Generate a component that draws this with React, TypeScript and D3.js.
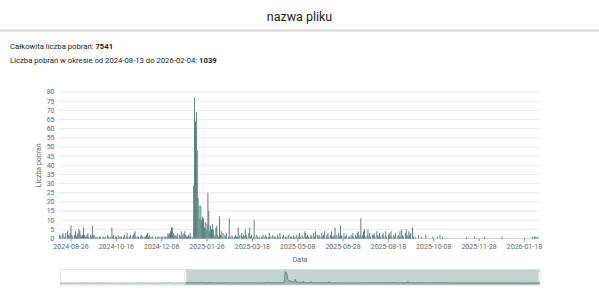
import React from "react";
import * as d3 from "d3";

// ---- Daily downloads in the selected period (2024-08-13 .. 2026-02-04) ----
const aug2024 = [2,1,0,2,3, 0,1,3,0,4, 2,1,3,7,2, 1,0,2,4];
const sep2024 = [1,2,3,5,4,2,1,2,6,2, 1,1,2,3,1,0,2,1,7,2, 2,0,1,0,1,0,1,1,0,0];
const oct2024 = [1,1,0,1,0,2,1,0,1,0, 6,1,2,0,1,1,0,2,1,0, 1,1,0,1,2,0,1,3,1,0, 1];
const nov2024 = [2,0,1,2,3,4,1,0,1,1, 0,1,2,1,1,0,1,1,2,3, 1,2,1,0,1,1,0,0,1,0];
const dec2024 = [1,1,0,1,0,1,1,0,1,1, 0,1,3,2,3,4,6,6,3,2, 1,2,1,3,0,2,1,4,2,1, 3];
const jan2025 = [4,2,1,1,2,1,3,1,0,1, 29,77,64,69,48,22,18,11,18,10, 12,11,6,9,5,8,25,15,4,7, 5];
const feb2025 = [8,5,2,1,6,7,2,1,12,2, 4,1,3,0,2,1,3,0,1,11, 1,0,2,1,0,1,2,1];
const mar2025 = [1,6,1,2,0,3,1,2,1,5, 2,1,0,3,6,1,2,0,1,10, 1,0,2,1,0,1,0,1,1,2, 0];
const apr2025 = [1,2,1,0,1,3,1,0,1,2, 0,1,1,0,2,1,0,3,1,0, 1,2,0,1,1,0,1,2,0,1];
const may2025 = [1,0,2,1,0,1,2,0,1,3, 1,0,2,1,0,4,3,1,2,1, 0,1,2,1,0,3,1,4,0,2, 1];
const jun2025 = [2,1,0,3,1,2,4,0,1,2, 3,1,0,2,4,1,1,2,6,1, 2,0,3,1,7,2,1,0,3,1];
const jul2025 = [1,2,0,1,1,0,2,1,3,1, 0,2,1,3,4,1,2,11,1,2, 4,5,1,0,2,5,1,3,1,0, 2];
const aug2025 = [2,3,1,0,4,2,1,3,1,0, 2,3,1,0,4,1,0,2,3,1, 4,1,0,2,1,3,0,1,2,1, 4];
const sep2025 = [1,5,2,1,0,3,5,2,1,4, 2,3,0,6,1,0,1,0,0,0, 2,0,0,1,0,0,0,0,2,0];
const oct2025 = [0,0,0,0,0,0,1,0,0,0, 0,1,0,0,2,0,0,1,0,0, 0,0,0,0,0,0,0,0,0,0, 0];
const nov2025 = [0,0,0,0,0,0,0,0,0,0, 0,0,0,1,0,0,0,0,0,0, 0,0,1,0,0,0,0,0,0,0];
const dec2025 = [0,0,0,1,0,0,0,0,0,0, 0,0,0,0,0,0,0,0,0,0, 0,0,0,1,0,0,0,0,0,0, 0];
const jan2026 = [0,0,0,0,0,0,0,0,0,0, 0,0,0,0,0,0,0,0,0,0, 0,0,0,0,0,0,1,0,1,1, 1];
const feb2026 = [0,1,0,0];

// ---- Earlier days shown only in the navigator (2024-02-04 .. 2024-08-12) ----
const feb2024pre = [0,1,0,0,1,0,0,2,0,1, 0,0,1,0,0,1,0,2,0,0, 1,0,0,1,0,0];
const mar2024pre = [1,0,2,0,6,1,0,1,0,0, 1,2,0,0,1,0,1,0,0,2, 0,1,0,0,1,0,2,0,1,0, 5];
const apr2024pre = [1,0,0,1,0,2,0,1,0,0, 1,0,1,0,0,2,0,0,1,0, 0,1,0,0,2,0,1,0,0,1];
const may2024pre = [0,1,0,0,2,0,1,0,0,1, 0,0,1,0,2,0,0,1,0,1, 0,0,1,0,0,2,0,1,0,0, 1];
const jun2024pre = [0,1,0,2,0,0,1,0,5,1, 0,0,1,0,2,0,1,0,0,1, 0,2,0,1,0,0,1,0,2,0];
const jul2024pre = [1,0,2,0,1,0,0,1,2,0, 1,0,6,1,0,2,1,4,7,3, 5,1,0,2,1,0,1,3,0,2, 1];
const aug2024pre = [1,2,0,1,0,3,1,0,2,1,0,2];

const START = "2024-08-13";
const END = "2026-02-04";
const NAV_START = "2024-02-04";
const TOTAL = 7541;
const PERIOD_TOTAL = 1039;
const TITLE = "nazwa pliku";
const xTickLabels = ["2024-08-26","2024-10-16","2024-12-06","2025-01-26","2025-03-18","2025-05-08","2025-06-28","2025-08-18","2025-10-08","2025-11-28","2026-01-18"];
const yTickValues = [0,5,10,15,20,25,30,35,40,45,50,55,60,65,70,75,80];

const values: number[] = [aug2024, sep2024, oct2024, nov2024, dec2024, jan2025, feb2025, mar2025, apr2025, may2025, jun2025, jul2025, aug2025, sep2025, oct2025, nov2025, dec2025, jan2026, feb2026].flat();
const preValues: number[] = [feb2024pre, mar2024pre, apr2024pre, may2024pre, jun2024pre, jul2024pre, aug2024pre].flat();

const FONT = "Roboto, 'Noto Sans', sans-serif";

export default function App() {
  const W = 599, H = 301;
  const parse = d3.timeParse("%Y-%m-%d");
  const fmt = d3.timeFormat("%Y-%m-%d");
  const start = parse(START)!;
  const navStart = parse(NAV_START)!;
  const end = parse(END)!;
  const dates = values.map((_, i) => fmt(d3.timeDay.offset(start, i)));

  const plotL = 59, plotR = 540, plotB = 238.5, plotT = 92;
  const x = d3.scaleBand<string>().domain(dates).range([plotL, plotR]).padding(0);
  const y = d3.scaleLinear().domain([0, 80]).range([plotB, plotT]);

  // navigator
  const navVals = preValues.concat(values);
  const navL = 60.5, navR = 539.5, navT = 269.5, navB = 285;
  const nx = d3.scaleTime().domain([navStart, end]).range([navL, navR]);
  const ny = d3.scaleLinear().domain([0, d3.max(navVals)!]).range([283, 271.5]);
  const navDate = (i: number) => d3.timeDay.offset(navStart, i);
  const area = d3.area<number>().x((_, i) => nx(navDate(i))).y0(284.5).y1((d) => ny(d));
  const line = d3.line<number>().x((_, i) => nx(navDate(i))).y((d) => ny(d));
  const selX = nx(start);

  return (
    <svg width={W} height={H} style={{ position: "absolute", left: 0, top: 0, background: "#fff" }} fontFamily={FONT}>
      <text x={299.5} y={21} textAnchor="middle" fontSize={12.5} fill="#222">{TITLE}</text>
      <line x1={0} x2={W} y1={30.5} y2={30.5} stroke="#d6d6d6" strokeWidth={2} />
      <text x={10} y={48.5} fontSize={7.7} fill="#222">Całkowita liczba pobrań: <tspan fontWeight="bold">{TOTAL}</tspan></text>
      <text x={10} y={62.5} fontSize={7.7} fill="#222">Liczba pobrań w okresie od {START} do {END}: <tspan fontWeight="bold">{PERIOD_TOTAL}</tspan></text>

      {yTickValues.map((t) => (
        <g key={t}>
          <line x1={plotL} x2={plotR} y1={y(t)} y2={y(t)} stroke={t === 0 ? "#cfcfcf" : "#e9e9e9"} strokeWidth={1} />
          <text x={54.5} y={y(t)} dy="0.35em" textAnchor="end" fontSize={7} fill="#666">{t}</text>
        </g>
      ))}

      {values.map((v, i) => (
        v > 0 ? <rect key={i} x={x(dates[i])!} width={x.bandwidth()} y={y(v)} height={y(0) - y(v)} fill="#467670" /> : null
      ))}

      {xTickLabels.map((t) => {
        const cx = x(t)! + x.bandwidth() / 2;
        return (
          <g key={t}>
            <line x1={cx} x2={cx} y1={plotB} y2={plotB + 3} stroke="#999" />
            <text x={cx} y={248.5} textAnchor="middle" fontSize={7} fill="#666">{t}</text>
          </g>
        );
      })}
      <text x={300} y={261.5} textAnchor="middle" fontSize={7} fill="#666">Data</text>
      <text transform={`translate(40.5,${(plotT + plotB) / 2}) rotate(-90)`} textAnchor="middle" fontSize={7} fill="#666">Liczba pobrań</text>

      {/* navigator */}
      <rect x={navL} y={navT} width={navR - navL} height={navB - navT} fill="#fff" stroke="#e2e2e2" />
      <rect x={selX} y={navT} width={navR - selX} height={navB - navT} fill="#c5d4d2" />
      <path d={area(navVals)!} fill="#9db6b3" />
      <path d={line(navVals)!} fill="none" stroke="#4f7d77" strokeWidth={0.8} />
      <rect x={navL} y={navT} width={selX - navL} height={navB - navT} fill="#fff" opacity={0.45} />
      <rect x={selX - 1} y={271.5} width={2} height={10} fill="#fff" stroke="#c8c8c8" strokeWidth={0.5} rx={1} />
      <rect x={navR - 1} y={271.5} width={2.5} height={10} fill="#fff" stroke="#c8c8c8" strokeWidth={0.5} rx={1} />
    </svg>
  );
}
